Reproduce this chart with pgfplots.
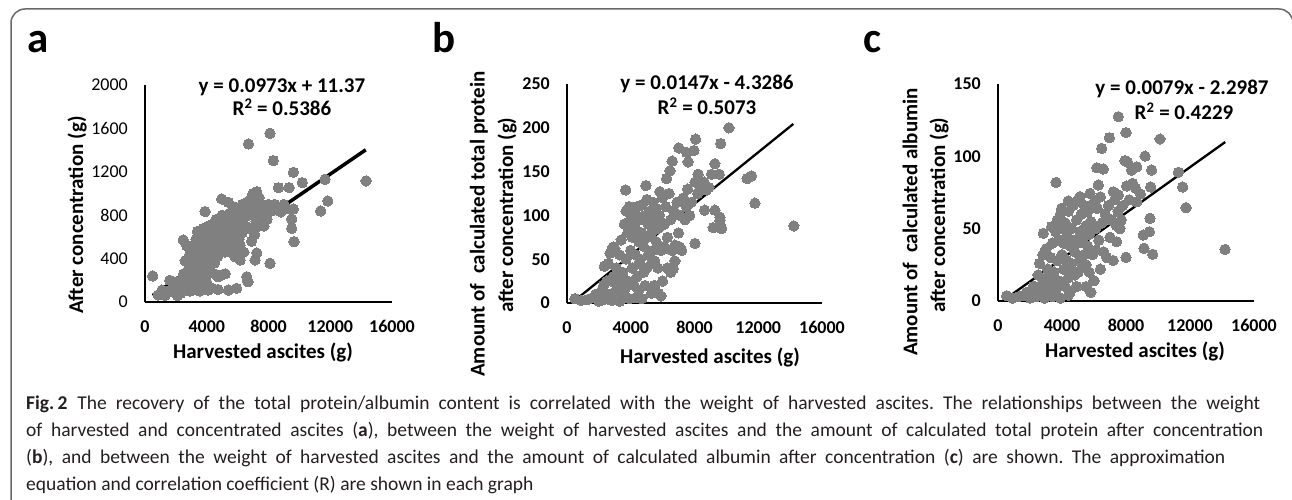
\documentclass[border=0pt]{standalone}
\usepackage{pgfplots}
\pgfplotsset{compat=1.18}
\usepackage{fontspec}
\setmainfont{Carlito}
\frenchspacing
\definecolor{dotgray}{RGB}{128,128,128}
\definecolor{framegray}{RGB}{105,105,105}
\definecolor{captext}{RGB}{35,31,32}

\pgfplotstableread{
x y
500 240
860 65
1100 110
1400 95
1600 200
1810 129
2030 184
2240 110
2460 147
2890 101
3320 147
3540 101
4100 110
4730 115
5400 110
5940 126
4730 233
5000 250
6590 233
6670 187
5830 418
6160 525
6160 387
7240 452
7130 387
8100 357
6700 1457
8100 1555
8315 1303
9610 1196
10190 1100
11660 1131
14320 1116
8640 1054
9330 1054
7240 1017
11840 931
11380 839
4970 950
5400 919
3890 833
4860 777
9610 857
9505 765
9505 679
9655 556
1300 60
1700 110
1900 90
2100 60
2200 150
2300 80
2400 200
2500 260
2480 572
2600 380
2700 520
2700 120
2800 300
2900 440
3000 210
3000 350
3100 500
3100 110
3200 280
3300 420
3300 580
3400 220
3400 650
3500 360
3500 500
3600 280
3600 600
3700 430
3700 160
3800 520
3800 680
3900 350
3900 240
4000 460
4000 600
4100 380
4100 700
4200 520
4200 300
4300 640
4300 440
4400 560
4400 720
4500 480
4500 360
4600 620
4600 760
4700 520
4700 420
4800 660
4800 580
4900 480
4900 720
5000 620
5000 800
5100 540
5100 700
5200 640
5200 460
5300 760
5300 580
5400 680
5400 500
5500 620
5500 820
5600 720
5600 560
5700 660
5700 880
5800 600
5800 760
5900 700
6000 640
6000 860
6100 760
6100 580
6200 820
6200 700
6300 900
6300 640
6400 780
6500 860
6500 700
6600 920
6700 800
6800 880
6800 680
6900 960
7000 820
7100 900
7200 740
7300 860
7400 700
7500 820
7600 880
7700 700
7800 860
7900 760
8000 900
8200 840
8400 900
8600 880
8800 830
9000 900
9200 860
7000 1000
7400 960
5900 480
6400 460
6900 560
7100 620
3200 140
2600 230
4500 260
2000 120
2800 160
3800 120
4300 130
5200 260
4000 180
}\dataA

\pgfplotstableread{
x y
500 5
900 3
1300 4
1600 6
2000 2
2300 4
2800 3
3300 2
3900 5
4300 6
10160 200
8070 187
9640 182
7020 177
7500 172
7960 174
6600 162
7600 161
9280 159
6460 151
6250 142
8230 147
9070 147
9550 147
11300 142
11580 145
11790 114
14230 88
3680 129
4950 134
7570 130
8030 138
8340 133
8760 129
9280 106
9590 98
9170 86
9700 85
9590 94
8030 68
8630 106
2340 42
2900 64
2700 57
3740 91
4060 95
3960 108
4370 99
5830 127
6770 66
7070 64
6770 48
6660 39
5730 11
5900 8
5300 11
1800 10
2000 5
2200 15
2500 25
2600 45
2700 10
2800 60
2900 30
3000 62
3100 40
3200 20
3300 55
3400 8
3400 72
3500 35
3600 90
3600 15
3700 50
3700 105
3800 25
3800 80
3900 110
4000 60
4000 95
4100 40
4100 75
4200 20
4200 100
4300 85
4300 55
4400 110
4400 30
4500 70
4500 15
4600 95
4600 50
4700 80
4700 112
4800 35
4800 65
4900 100
4900 20
5000 75
5000 118
5100 55
5100 90
5200 105
5300 45
5300 80
5400 115
5400 60
5500 95
5500 48
5600 108
5600 70
5700 85
5700 40
5800 100
5900 60
6000 120
6000 25
6100 90
6100 64
6200 110
6300 75
6400 125
6500 95
6600 60
6700 105
6800 62
6900 115
7000 80
7100 100
7200 60
7300 120
7400 95
7500 110
7700 100
7800 115
8200 125
8600 138
8900 132
2300 20
3100 15
4700 5
5500 20
5000 40
4500 45
3300 30
2800 25
6300 40
6500 35
6200 62
}\dataB

\pgfplotstableread{
x y
540 3.6
900 2
1300 3
1600 4
2000 2
2400 3
2900 2
3400 3
3900 2
4400 4
7520 127.4
8000 116.4
6960 112.9
10125 112
6480 105.5
9190 100.2
7940 97
8100 96
6170 92.1
6580 91.2
8350 90.5
8670 92.8
9600 90.5
11270 89
3625 82
6270 80.2
8040 79.5
8420 81.3
9540 78.8
11540 78.8
11750 64.5
14190 35.7
5750 74.4
5125 72.1
4390 69.1
3980 64.1
7210 75.5
7520 73.3
8670 68.6
9500 57.2
9080 45.6
9460 47.9
9120 36.4
9670 32.3
8000 30.2
3350 51.4
2830 46.8
7420 41
7620 50
1800 6
2200 10
2500 18
2600 26
2700 8
2800 32
2900 15
3000 36
3100 22
3200 12
3300 30
3400 5
3400 40
3500 20
3600 48
3600 8
3700 28
3700 56
3800 14
3800 42
3900 60
4000 32
4000 50
4100 22
4100 40
4200 10
4200 54
4300 45
4300 28
4400 62
4400 16
4500 38
4500 6
4600 50
4600 26
4700 42
4700 66
4800 18
4800 34
4900 56
4900 10
5000 40
5000 70
5100 28
5100 48
5200 60
5300 24
5300 44
5400 66
5400 32
5500 52
5500 25
5600 62
5600 38
5700 46
5700 20
5800 6
5800 55
5900 32
6000 68
6000 14
6100 50
6100 35
6200 64
6300 42
6400 72
6400 22
6500 54
6600 34
6700 60
6800 30
6900 66
7000 44
7100 56
7200 28
7300 70
7400 52
7500 62
7700 56
7800 66
8200 70
8600 78
8900 74
2300 10
3100 8
5500 10
5000 20
4500 22
3300 16
2800 12
}\dataC

\pgfplotsset{
  panel/.style={
    scale only axis,
    axis lines=left,
    axis line style={-, line width=2pt},
    xmin=0, xmax=16000, ymin=0,
    xtick={0,4000,8000,12000,16000},
    scaled ticks=false,
    major tick length=0pt,
    clip=false,
    axis on top,
    every tick label/.append style={font=\fontsize{18}{20}\selectfont\bfseries, inner sep=0pt},
    xticklabel style={anchor=north, yshift=-18pt},
    yticklabel style={anchor=east, xshift=-17pt},
    /pgf/number format/1000 sep={},
    /pgf/number format/assume math mode=true,
  },
  dots/.style={only marks, mark=*, mark size=5.2pt,
    mark options={fill=dotgray, draw=dotgray, line width=0pt}},
}

\begin{document}
\begin{tikzpicture}[x=1pt, y=1pt]
\path[use as bounding box] (0,0) rectangle (1292,499);
\draw[framegray, line width=1.5pt, rounded corners=14pt]
  (11,-40) -- (11,490) -- (1293,490) -- (1293,-40);

% panel a
\begin{axis}[panel, at={(145pt,197pt)}, anchor=south west,
  width=247pt, height=217pt, ymax=2000, ytick={0,400,...,2000},
  yticklabel style={font=\fontsize{18}{20}\selectfont}]
\addplot[dots] table {\dataA};
\addplot[black, line width=3.5pt, no marks] coordinates {(500,60.0) (14300,1402.8)};
\end{axis}

% panel b
\begin{axis}[panel, at={(567pt,196pt)}, anchor=south west,
  width=255pt, height=219pt, ymax=250, ytick={0,50,...,250}]
\addplot[dots] table {\dataB};
\addplot[black, line width=2.3pt, no marks] coordinates {(600,4.49) (14200,204.41)};
\end{axis}

% panel c
\begin{axis}[panel, at={(998pt,198pt)}, anchor=south west,
  width=256pt, height=217pt, ymax=150, ytick={0,50,100,150}]
\addplot[dots] table {\dataC};
\addplot[black, line width=2.3pt, no marks] coordinates {(600,2.44) (14200,109.88)};
\end{axis}

\tikzset{lab/.style={font=\fontsize{21}{23}\selectfont\bfseries, inner sep=0pt},
  eq/.style={font=\fontsize{21}{22}\selectfont\bfseries, inner sep=0pt, anchor=base},
  letter/.style={font=\fontsize{43}{45}\selectfont\bfseries, inner sep=0pt, anchor=base}}

\node[letter] at (38,446) {a};
\node[letter] at (444,446) {b};
\node[letter] at (872,446) {c};

\node[eq] at (282,406) {y = 0.0973x + 11.37};
\node[eq] at (282,383) {R\textsuperscript{2} = 0.5386};
\node[eq] at (707,409) {y = 0.0147x - 4.3286};
\node[eq] at (707,384) {R\textsuperscript{2} = 0.5073};
\node[eq] at (1182,404) {y = 0.0079x - 2.2987};
\node[eq] at (1184,379) {R\textsuperscript{2} = 0.4229};

\node[lab, anchor=base] at (263,141) {Harvested ascites (g)};
\node[lab, anchor=base] at (710,136) {Harvested ascites (g)};
\node[lab, anchor=base] at (1135,142) {Harvested ascites (g)};

\node[lab, rotate=90] at (77,284) {After concentration (g)};
\node[lab, rotate=90] at (479,275) {Amount of \ calculated total protein};
\node[lab, rotate=90] at (507,284) {after concentration (g)};
\node[lab, rotate=90] at (910,277) {Amount of \ calculated albumin};
\node[lab, rotate=90] at (939,284) {after concentration (g)};

\tikzset{captxt/.style={font=\fontsize{19.5}{22}\selectfont, text=captext, inner sep=0pt, anchor=base west}}
\node[captxt] at (26,90) {\makebox[1234pt][s]{\mbox{\textbf{Fig.\,2}\enspace The} recovery of the total protein/albumin content is correlated with the weight of harvested ascites. The relationships between the weight}};
\node[captxt] at (26,63) {\makebox[1237pt][s]{of harvested and concentrated ascites (\textbf{a}), between the weight of harvested ascites and the amount of calculated total protein after concentration}};
\node[captxt] at (26,36) {\makebox[1199pt][s]{(\textbf{b}), and between the weight of harvested ascites and the amount of calculated albumin after concentration (\textbf{c}) are shown. The approximation}};
\node[captxt] at (26,9) {equation and correlation coefficient (R) are shown in each graph};
\end{tikzpicture}
\end{document}
